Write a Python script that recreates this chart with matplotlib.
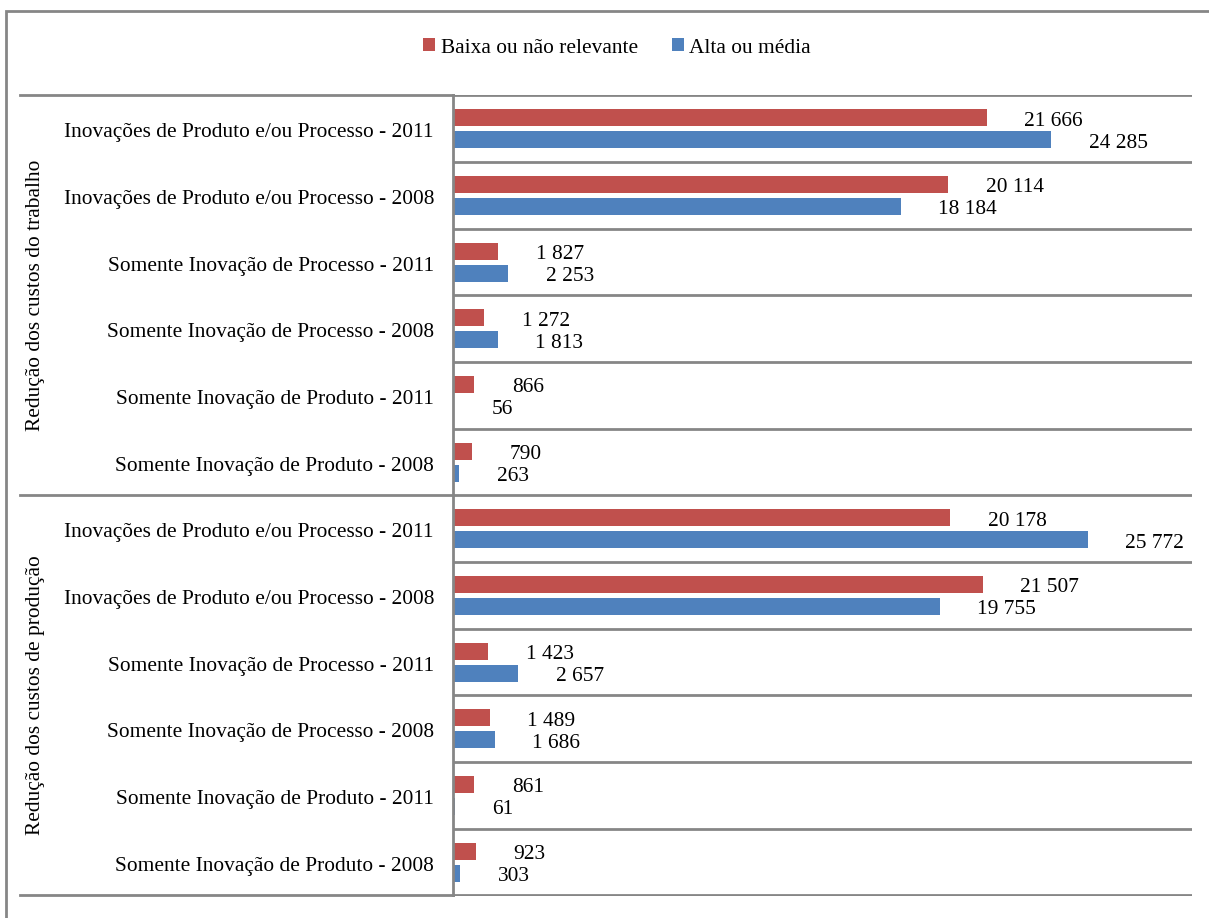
import numpy as np
import matplotlib.pyplot as plt
from matplotlib.lines import Line2D
from matplotlib.patches import Rectangle

plt.rcParams['font.family'] = ['Liberation Serif', 'DejaVu Serif']

categorias = [
    "Inovações de Produto e/ou Processo - 2011",
    "Inovações de Produto e/ou Processo - 2008",
    "Somente Inovação de Processo - 2011",
    "Somente Inovação de Processo - 2008",
    "Somente Inovação de Produto - 2011",
    "Somente Inovação de Produto - 2008",
    "Inovações de Produto e/ou Processo - 2011",
    "Inovações de Produto e/ou Processo - 2008",
    "Somente Inovação de Processo - 2011",
    "Somente Inovação de Processo - 2008",
    "Somente Inovação de Produto - 2011",
    "Somente Inovação de Produto - 2008",
]
grupos = ["Redução dos custos do trabalho", "Redução dos custos de produção"]

baixa = [21666, 20114, 1827, 1272, 866, 790, 20178, 21507, 1423, 1489, 861, 923]
alta = [24285, 18184, 2253, 1813, 56, 263, 25772, 19755, 2657, 1686, 61, 303]

vermelho = "#C0504D"
azul = "#4F81BD"
cinza = "#868686"
fs = 15.4

W, H = 1209, 918
fig = plt.figure(figsize=(W / 100, H / 100), dpi=100)

# plot area in pixel terms
x0, x1 = 453, 1192
y_top, y_bot = 95.5, 895.5
ax = fig.add_axes([x0 / W, 1 - y_bot / H, (x1 - x0) / W, (y_bot - y_top) / H])

n = len(categorias)
y = np.arange(n) + 0.5
h = 0.255
off = 0.165

ax.barh(y - off, baixa, height=h, color=vermelho, label="Baixa ou não relevante")
ax.barh(y + off, alta, height=h, color=azul, label="Alta ou média")


def fmt(v):
    return f"{v:,}".replace(",", " ")


for yi, v in zip(y - off, baixa):
    ax.annotate(fmt(v), (v, yi), xytext=(27, -2.5), textcoords="offset points",
                ha="left", va="center", fontsize=fs)
for yi, v in zip(y + off, alta):
    ax.annotate(fmt(v), (v, yi), xytext=(27, -2.5), textcoords="offset points",
                ha="left", va="center", fontsize=fs)

ax.set_xlim(0, 30000)
ax.set_ylim(n, 0)
ax.set_xticks([])
ax.set_yticks([])
for s in ["top", "right", "bottom"]:
    ax.spines[s].set_visible(False)
ax.spines["left"].set_color(cinza)
ax.spines["left"].set_linewidth(2)

# separators between categories
for k in range(n + 1):
    ax.axhline(k, color=cinza, lw=2, zorder=0)

# longer tick lines for the group boundaries
ext = (20 - x0) / (x1 - x0)
for k in [0, 6, 12]:
    ax.add_line(Line2D([ext, 0], [k, k], color=cinza, lw=2, clip_on=False,
                       transform=ax.get_yaxis_transform()))

# category labels
for yi, c in zip(y, categorias):
    ax.annotate(c, (0, yi), xycoords=ax.get_yaxis_transform(),
                xytext=(-19 * 0.72, -3), textcoords="offset points",
                ha="right", va="center", fontsize=fs)

# group labels
for gi, g in enumerate(grupos):
    ax.text((35 - x0) / (x1 - x0), gi * 6 + 3, g, transform=ax.get_yaxis_transform(),
            ha="center", va="center", rotation=90, fontsize=fs)

fig.legend(loc="center", bbox_to_anchor=(617 / W, 1 - 48 / H), ncol=2,
           frameon=False, fontsize=fs, handlelength=0.55, handleheight=0.55,
           handletextpad=0.25, columnspacing=1.6)

# chart frame
fig.patches.append(Rectangle((6 / W, -0.05), 1.1, 1 - 11 / H + 0.05, transform=fig.transFigure,
                             fill=False, edgecolor=cinza, lw=2))

fig.savefig("out.png", dpi=100)
